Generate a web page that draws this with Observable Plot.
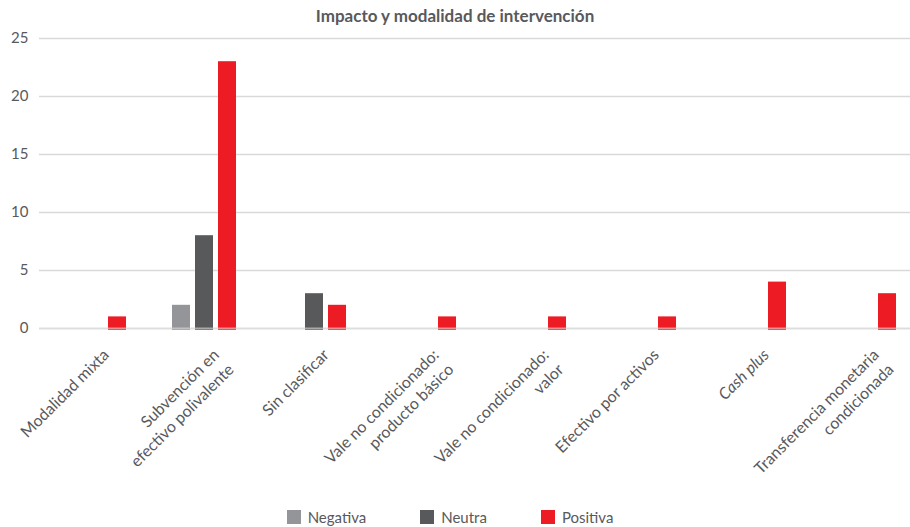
<!DOCTYPE html>
<html><head><meta charset="utf-8">
<script src="https://cdn.jsdelivr.net/npm/d3@7"></script>
<script src="https://cdn.jsdelivr.net/npm/@observablehq/plot@0.6"></script>
<style>
body{margin:0;background:#fff;font-family:Lato, "Noto Sans", sans-serif;color:#58595b;width:910px;}
#title{height:26px;line-height:32px;text-align:center;font-weight:bold;font-size:17px;color:#58595b;}
#legend{display:flex;justify-content:center;gap:54px;font-size:15px;margin-top:12px;line-height:20px;padding-right:10px;}
#legend .item{display:flex;align-items:center;gap:7px;}
#legend .sw{width:14px;height:14px;display:inline-block;}
svg{overflow:visible;}
</style></head><body>
<div id="title">Impacto y modalidad de intervención</div>
<div id="chart"></div>
<div id="legend"></div>
<script>
const categories = ["Modalidad mixta","Subvención en efectivo polivalente","Sin clasificar","Vale no condicionado: producto básico","Vale no condicionado: valor","Efectivo por activos","Cash plus","Transferencia monetaria condicionada"];
const labels = ["Modalidad mixta","Subvención en\nefectivo polivalente","Sin clasificar","Vale no condicionado:\nproducto básico","Vale no condicionado:\nvalor","Efectivo por activos","Cash plus","Transferencia monetaria\ncondicionada"];
const series = ["Negativa","Neutra","Positiva"];
const negativa = [0,2,0,0,0,0,0,0];
const neutra   = [0,8,3,0,0,0,0,0];
const positiva = [1,23,2,1,1,1,4,3];
const colors = ["#939598","#58595b","#ed1c24"];
const yTicks = [0,5,10,15,20,25];
const italicCats = ["Cash plus"];

const values = [negativa, neutra, positiva];
const rows = [];
categories.forEach((c,i)=>values.forEach((arr,j)=>{ if(arr[i]>0) rows.push({cat:c, s:series[j], v:arr[i]}); }));
const labelRows = categories.map((c,i)=>({cat:c, label:labels[i]}));

const textOpts = {fx:"cat", text:"label", frameAnchor:"bottom", dx:5, dy:17, rotate:-45, textAnchor:"end", lineAnchor:"top", lineHeight:1.3, fill:"#58595b", fontSize:16};

const chart = Plot.plot({
  width:910, height:469, marginTop:12, marginBottom:167, marginLeft:39, marginRight:0,
  style:{fontFamily:'Lato, "Noto Sans", sans-serif', fontSize:"15px", color:"#58595b", background:"#fff"},
  fx:{domain:categories, range:[39,919], padding:0, axis:null, label:null},
  x:{domain:series, paddingInner:0.21, paddingOuter:0.9, axis:null},
  y:{domain:[0,25], ticks:yTicks, tickSize:0, tickPadding:11, label:null},
  color:{domain:series, range:colors},
  marks:[
    Plot.ruleY(yTicks, {stroke:"#d9d9d9", strokeWidth:1.3}),
    Plot.barY(rows, {fx:"cat", x:"s", y:"v", fill:"s", insetBottom:-2}),
    Plot.ruleY([0], {stroke:"#e0e0e0", strokeWidth:2, strokeOpacity:0.6}),
    Plot.text(labelRows.filter(d=>!italicCats.includes(d.cat)), textOpts),
    Plot.text(labelRows.filter(d=>italicCats.includes(d.cat)), {...textOpts, fontStyle:"italic"})
  ]
});
document.getElementById("chart").appendChild(chart);

const lg = document.getElementById("legend");
series.forEach((s,i)=>{
  const it = document.createElement("div"); it.className="item";
  const sw = document.createElement("span"); sw.className="sw"; sw.style.background=colors[i];
  const t = document.createElement("span"); t.textContent=s;
  it.appendChild(sw); it.appendChild(t); lg.appendChild(it);
});
</script>
</body></html>
